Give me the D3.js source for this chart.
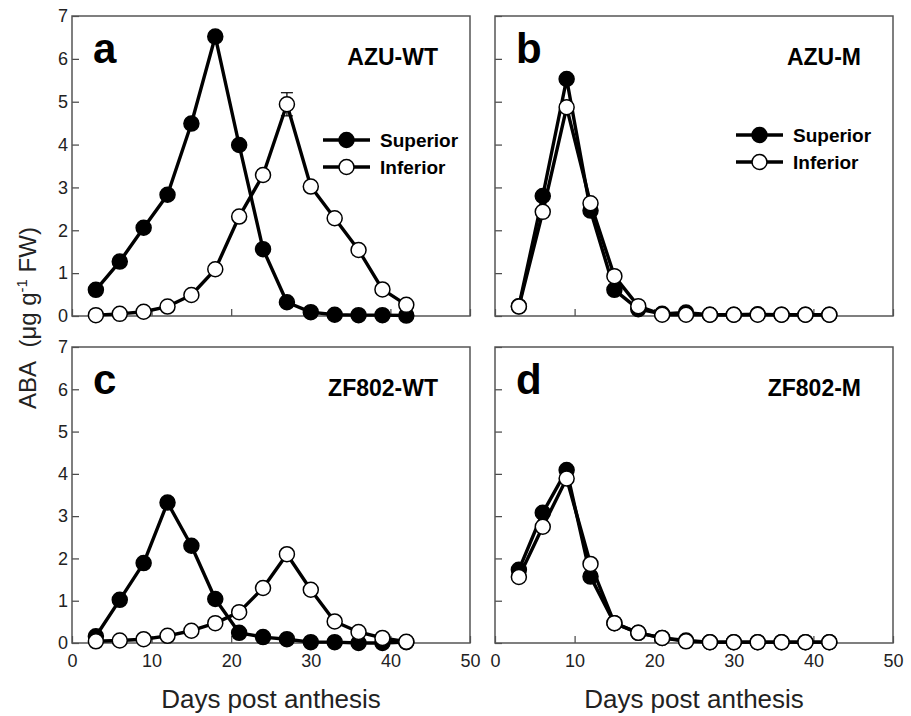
<!DOCTYPE html>
<html lang="en">
<head>
  <meta charset="UTF-8">
  <title>ABA content in superior and inferior grains</title>
  <script src="https://d3js.org/d3.v7.min.js"></script>
  <style>
    body { margin: 0; background: #fff; font-family: Arial, "Liberation Sans", sans-serif; }
    svg { display: block; }
  </style>
</head>
<body>
  <svg width="911" height="716"></svg>
  <script>
    // days post anthesis, shared by every panel
    const days = [3, 6, 9, 12, 15, 18, 21, 24, 27, 30, 33, 36, 39, 42];
    const xTicks = [0, 10, 20, 30, 40, 50];
    const yTicks = [0, 1, 2, 3, 4, 5, 6, 7];

    // ABA (ug g-1 FW)
    const azuWtSuperior = [0.61, 1.27, 2.06, 2.83, 4.49, 6.52, 3.99, 1.56, 0.32, 0.09, 0.03, 0.02, 0.02, 0.01];
    const azuWtInferior = [0.02, 0.05, 0.10, 0.22, 0.49, 1.09, 2.32, 3.29, 4.94, 3.02, 2.28, 1.54, 0.62, 0.26];
    const azuMSuperior  = [0.23, 2.80, 5.53, 2.46, 0.61, 0.16, 0.05, 0.08, 0.03, 0.03, 0.04, 0.03, 0.03, 0.03];
    const azuMInferior  = [0.22, 2.43, 4.87, 2.63, 0.93, 0.23, 0.03, 0.03, 0.03, 0.03, 0.03, 0.03, 0.03, 0.03];
    const zfWtSuperior  = [0.16, 1.02, 1.89, 3.32, 2.30, 1.04, 0.24, 0.14, 0.09, 0.02, 0.02, 0.00, 0.00, 0.02];
    const zfWtInferior  = [0.04, 0.06, 0.09, 0.17, 0.29, 0.47, 0.73, 1.30, 2.10, 1.26, 0.51, 0.26, 0.12, 0.03];
    const zfMSuperior   = [1.73, 3.08, 4.09, 1.57, 0.47, 0.24, 0.12, 0.06, 0.02, 0.02, 0.02, 0.02, 0.02, 0.02];
    const zfMInferior   = [1.56, 2.75, 3.89, 1.87, 0.47, 0.24, 0.12, 0.04, 0.02, 0.02, 0.02, 0.02, 0.02, 0.02];

    // standard errors (mostly hidden behind the markers)
    const azuWtSuperiorErr = [0.03, 0.05, 0.06, 0.10, 0.08, 0.08, 0.08, 0.05, 0.03, 0.02, 0.01, 0.01, 0.01, 0.01];
    const azuWtInferiorErr = [0.01, 0.01, 0.02, 0.03, 0.04, 0.10, 0.08, 0.12, 0.27, 0.10, 0.06, 0.05, 0.04, 0.03];
    const azuMSuperiorErr  = [0.02, 0.10, 0.10, 0.10, 0.05, 0.02, 0.01, 0.02, 0.01, 0.01, 0.01, 0.01, 0.01, 0.01];
    const azuMInferiorErr  = [0.02, 0.08, 0.10, 0.08, 0.05, 0.02, 0.01, 0.01, 0.01, 0.01, 0.01, 0.01, 0.01, 0.01];
    const zfWtSuperiorErr  = [0.02, 0.05, 0.08, 0.06, 0.07, 0.05, 0.02, 0.02, 0.01, 0.01, 0.01, 0.01, 0.01, 0.01];
    const zfWtInferiorErr  = [0.01, 0.01, 0.01, 0.02, 0.02, 0.03, 0.04, 0.08, 0.06, 0.05, 0.04, 0.03, 0.02, 0.01];
    const zfMSuperiorErr   = [0.05, 0.08, 0.06, 0.08, 0.03, 0.02, 0.01, 0.01, 0.01, 0.01, 0.01, 0.01, 0.01, 0.01];
    const zfMInferiorErr   = [0.05, 0.08, 0.06, 0.06, 0.03, 0.02, 0.01, 0.01, 0.01, 0.01, 0.01, 0.01, 0.01, 0.01];

    const panels = [
      { letter: "a", title: "AZU-WT",   sup: azuWtSuperior, supErr: azuWtSuperiorErr, inf: azuWtInferior, infErr: azuWtInferiorErr,
        x0: 72,  x1: 470, y0: 16,  y1: 316, yLabels: true,  xLabels: false, legend: [323, 140] },
      { letter: "b", title: "AZU-M",    sup: azuMSuperior,  supErr: azuMSuperiorErr,  inf: azuMInferior,  infErr: azuMInferiorErr,
        x0: 495, x1: 893, y0: 16,  y1: 316, yLabels: false, xLabels: false, legend: [736, 135] },
      { letter: "c", title: "ZF802-WT", sup: zfWtSuperior,  supErr: zfWtSuperiorErr,  inf: zfWtInferior,  infErr: zfWtInferiorErr,
        x0: 72,  x1: 470, y0: 347, y1: 643, yLabels: true,  xLabels: true,  legend: null },
      { letter: "d", title: "ZF802-M",  sup: zfMSuperior,   supErr: zfMSuperiorErr,   inf: zfMInferior,   infErr: zfMInferiorErr,
        x0: 495, x1: 893, y0: 347, y1: 643, yLabels: false, xLabels: true,  legend: null }
    ];

    const svg = d3.select("svg");
    const r = 7.5;

    panels.forEach(p => {
      const x = d3.scaleLinear().domain([0, 50]).range([p.x0, p.x1]);
      const y = d3.scaleLinear().domain([0, 7]).range([p.y1, p.y0]);
      const g = svg.append("g");

      // inward ticks
      const xAxis = d3.axisBottom(x).tickValues(xTicks).tickSizeInner(-7).tickSizeOuter(0)
                      .tickPadding(10).tickFormat(p.xLabels ? d3.format("d") : () => "");
      const yAxis = d3.axisLeft(y).tickValues(yTicks).tickSizeInner(-7).tickSizeOuter(0)
                      .tickPadding(4).tickFormat(p.yLabels ? d3.format("d") : () => "");

      const gx = g.append("g").attr("transform", `translate(0,${p.y1})`).call(xAxis);
      const gy = g.append("g").attr("transform", `translate(${p.x0},0)`).call(yAxis);
      [gx, gy].forEach(a => {
        a.select(".domain").remove();
        a.selectAll("line").attr("stroke", "#444").attr("stroke-width", 1.2);
        a.selectAll("text").attr("fill", "#222").style("font-size", "18px")
         .style("font-family", "Arial, 'Liberation Sans', sans-serif");
      });
      gy.selectAll("text").attr("x", -4);
      gx.selectAll("text").attr("dy", "0.75em");

      // frame
      g.append("rect")
       .attr("x", p.x0).attr("y", p.y0)
       .attr("width", p.x1 - p.x0).attr("height", p.y1 - p.y0)
       .attr("fill", "none").attr("stroke", "#555").attr("stroke-width", 1.5);

      const line = d3.line().x((d, i) => x(days[i])).y(d => y(d));

      const series = [
        { vals: p.sup, err: p.supErr, fill: "#000" },
        { vals: p.inf, err: p.infErr, fill: "#fff" }
      ];

      series.forEach(s => {
        g.append("path").datum(s.vals)
         .attr("d", line).attr("fill", "none")
         .attr("stroke", "#000").attr("stroke-width", 3.4).attr("stroke-linejoin", "round");
      });

      series.forEach(s => {
        const pts = s.vals.map((v, i) => ({ d: days[i], v: v, e: s.err[i] }));
        const eb = g.append("g").attr("stroke", "#000").attr("stroke-width", 1.2);
        pts.forEach(pt => {
          eb.append("line").attr("x1", x(pt.d)).attr("x2", x(pt.d))
            .attr("y1", y(pt.v - pt.e)).attr("y2", y(pt.v + pt.e));
          eb.append("line").attr("x1", x(pt.d) - 6).attr("x2", x(pt.d) + 6)
            .attr("y1", y(pt.v + pt.e)).attr("y2", y(pt.v + pt.e));
          eb.append("line").attr("x1", x(pt.d) - 6).attr("x2", x(pt.d) + 6)
            .attr("y1", y(Math.max(0, pt.v - pt.e))).attr("y2", y(Math.max(0, pt.v - pt.e)));
        });
        g.selectAll(null).data(pts).enter().append("circle")
         .attr("cx", d => x(d.d)).attr("cy", d => y(d.v)).attr("r", r)
         .attr("fill", s.fill).attr("stroke", "#000").attr("stroke-width", 1.5);
      });

      // panel letter and title
      g.append("text").attr("x", p.x0 + 21).attr("y", p.y0 + 47)
       .style("font-size", "42px").style("font-weight", "bold").text(p.letter);
      g.append("text").attr("x", p.x1 - 32).attr("y", p.y0 + 49)
       .attr("text-anchor", "end")
       .style("font-size", "23px").style("font-weight", "bold").text(p.title);

      // legend
      if (p.legend) {
        const [lx, ly] = p.legend;
        [["Superior", "#000"], ["Inferior", "#fff"]].forEach(([name, fill], i) => {
          const row = g.append("g").attr("transform", `translate(${lx},${ly + i * 27})`);
          row.append("line").attr("x1", 0).attr("x2", 47).attr("y1", 0).attr("y2", 0)
             .attr("stroke", "#000").attr("stroke-width", 3.4);
          row.append("circle").attr("cx", 23.5).attr("cy", 0).attr("r", r)
             .attr("fill", fill).attr("stroke", "#000").attr("stroke-width", 1.5);
          row.append("text").attr("x", 57).attr("y", 7)
             .style("font-size", "19px").style("font-weight", "bold").text(name);
        });
      }
    });

    // shared y label
    const yLab = svg.append("text")
      .attr("transform", "translate(36,318) rotate(-90)")
      .attr("text-anchor", "middle")
      .style("font-size", "24px").attr("fill", "#222");
    yLab.append("tspan").text("ABA\u00a0\u00a0(\u03bcg g");
    yLab.append("tspan").attr("dy", -9).style("font-size", "15px").text("-1");
    yLab.append("tspan").attr("dy", 9).text("\u00a0FW)");

    // x labels
    [[271, 708], [694, 708]].forEach(([cx, cy]) => {
      svg.append("text").attr("x", cx).attr("y", cy)
         .attr("text-anchor", "middle").style("font-size", "26px").attr("fill", "#222")
         .text("Days post anthesis");
    });
  </script>
</body>
</html>
